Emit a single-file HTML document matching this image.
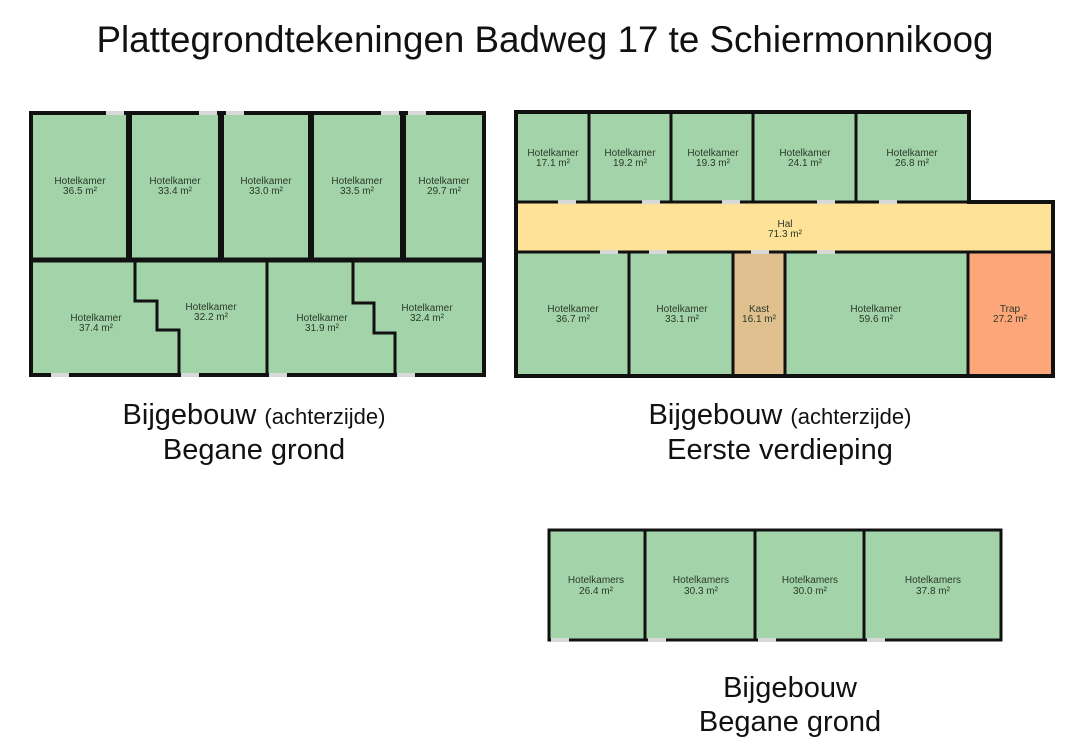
<!DOCTYPE html>
<html><head><meta charset="utf-8"><style>
html,body{margin:0;padding:0;background:#fff;}
svg{display:block;}
text{font-family:"Liberation Sans",Arial,sans-serif;}
.r{font-size:10px;fill:#2a3a2a;text-anchor:middle;}
.lb{font-size:29px;fill:#111;text-anchor:middle;}
.w{fill:none;stroke:#111;}
</style></head><body>
<svg width="1080" height="754" viewBox="0 0 1080 754" xmlns="http://www.w3.org/2000/svg">
<rect width="1080" height="754" fill="#fff"/>
<text x="545" y="52" font-size="37" fill="#111" text-anchor="middle" textLength="897" lengthAdjust="spacingAndGlyphs">Plattegrondtekeningen Badweg 17 te Schiermonnikoog</text>

<!-- Plan 1 -->
<rect x="31" y="113" width="453" height="262" fill="#a3d3a9"/>
<rect class="w" x="31" y="113" width="453" height="262" stroke-width="4"/>
<g stroke="#111" stroke-width="6">
<line x1="129" y1="113" x2="129" y2="260"/>
<line x1="221" y1="113" x2="221" y2="260"/>
<line x1="311" y1="113" x2="311" y2="260"/>
<line x1="403" y1="113" x2="403" y2="260"/>
<line x1="31" y1="260" x2="484" y2="260" stroke-width="5"/>
</g>
<polyline class="w" stroke-width="3" points="135,260 135,301 157,301 157,330 179,330 179,375"/>
<line x1="267" y1="260" x2="267" y2="375" stroke="#111" stroke-width="3"/>
<polyline class="w" stroke-width="3" points="353,260 353,303 374,303 374,333 395,333 395,375"/>
<g fill="#d8d8d8">
<rect x="106" y="111" width="18" height="4"/><rect x="199" y="111" width="18" height="4"/><rect x="226" y="111" width="18" height="4"/>
<rect x="381" y="111" width="18" height="4"/><rect x="408" y="111" width="18" height="4"/>
<rect x="51" y="373" width="18" height="4"/><rect x="181" y="373" width="18" height="4"/><rect x="269" y="373" width="18" height="4"/><rect x="397" y="373" width="18" height="4"/>
</g>
<g class="r">
<text x="80" y="184">Hotelkamer</text><text x="80" y="194">36.5 m²</text>
<text x="175" y="184">Hotelkamer</text><text x="175" y="194">33.4 m²</text>
<text x="266" y="184">Hotelkamer</text><text x="266" y="194">33.0 m²</text>
<text x="357" y="184">Hotelkamer</text><text x="357" y="194">33.5 m²</text>
<text x="444" y="184">Hotelkamer</text><text x="444" y="194">29.7 m²</text>
<text x="96" y="321">Hotelkamer</text><text x="96" y="331">37.4 m²</text>
<text x="211" y="310">Hotelkamer</text><text x="211" y="320">32.2 m²</text>
<text x="322" y="321">Hotelkamer</text><text x="322" y="331">31.9 m²</text>
<text x="427" y="311">Hotelkamer</text><text x="427" y="321">32.4 m²</text>
</g>

<!-- Plan 2 -->
<rect x="516" y="112" width="453" height="90" fill="#a3d3a9"/>
<rect x="516" y="202" width="537" height="50" fill="#fde298"/>
<rect x="516" y="252" width="537" height="124" fill="#a3d3a9"/>
<rect x="733" y="252" width="52" height="124" fill="#dfc08e"/>
<rect x="968" y="252" width="85" height="124" fill="#fca679"/>
<path class="w" stroke-width="4" d="M516,112 H969 V202 H1053 V376 H516 Z"/>
<g stroke="#111" stroke-width="3">
<line x1="589" y1="112" x2="589" y2="202"/><line x1="671" y1="112" x2="671" y2="202"/>
<line x1="753" y1="112" x2="753" y2="202"/><line x1="856" y1="112" x2="856" y2="202"/>
<line x1="516" y1="202" x2="969" y2="202"/><line x1="516" y1="252" x2="1053" y2="252"/>
<line x1="629" y1="252" x2="629" y2="376"/><line x1="733" y1="252" x2="733" y2="376"/>
<line x1="785" y1="252" x2="785" y2="376"/><line x1="968" y1="252" x2="968" y2="376"/>
</g>
<g fill="#d8d8d8">
<rect x="558" y="200" width="18" height="4"/><rect x="642" y="200" width="18" height="4"/><rect x="722" y="200" width="18" height="4"/><rect x="817" y="200" width="18" height="4"/><rect x="879" y="200" width="18" height="4"/>
<rect x="600" y="250" width="18" height="4"/><rect x="649" y="250" width="18" height="4"/><rect x="751" y="250" width="18" height="4"/><rect x="817" y="250" width="18" height="4"/>
</g>
<g class="r">
<text x="553" y="156">Hotelkamer</text><text x="553" y="166">17.1 m²</text>
<text x="630" y="156">Hotelkamer</text><text x="630" y="166">19.2 m²</text>
<text x="713" y="156">Hotelkamer</text><text x="713" y="166">19.3 m²</text>
<text x="805" y="156">Hotelkamer</text><text x="805" y="166">24.1 m²</text>
<text x="912" y="156">Hotelkamer</text><text x="912" y="166">26.8 m²</text>
<text x="785" y="227">Hal</text><text x="785" y="237">71.3 m²</text>
<text x="573" y="312">Hotelkamer</text><text x="573" y="322">36.7 m²</text>
<text x="682" y="312">Hotelkamer</text><text x="682" y="322">33.1 m²</text>
<text x="759" y="312">Kast</text><text x="759" y="322">16.1 m²</text>
<text x="876" y="312">Hotelkamer</text><text x="876" y="322">59.6 m²</text>
<text x="1010" y="312">Trap</text><text x="1010" y="322">27.2 m²</text>
</g>

<!-- Plan 3 -->
<rect x="549" y="530" width="452" height="110" fill="#a3d3a9"/>
<rect class="w" x="549" y="530" width="452" height="110" stroke-width="3"/>
<g stroke="#111" stroke-width="3">
<line x1="645" y1="530" x2="645" y2="640"/><line x1="755" y1="530" x2="755" y2="640"/><line x1="864" y1="530" x2="864" y2="640"/>
</g>
<g fill="#d8d8d8">
<rect x="551" y="638" width="18" height="4"/><rect x="648" y="638" width="18" height="4"/><rect x="758" y="638" width="18" height="4"/><rect x="867" y="638" width="18" height="4"/>
</g>
<g class="r">
<text x="596" y="583">Hotelkamers</text><text x="596" y="594">26.4 m²</text>
<text x="701" y="583">Hotelkamers</text><text x="701" y="594">30.3 m²</text>
<text x="810" y="583">Hotelkamers</text><text x="810" y="594">30.0 m²</text>
<text x="933" y="583">Hotelkamers</text><text x="933" y="594">37.8 m²</text>
</g>

<!-- Labels -->
<text class="lb" x="254" y="424">Bijgebouw <tspan font-size="22">(achterzijde)</tspan></text>
<text class="lb" x="254" y="459">Begane grond</text>
<text class="lb" x="780" y="424">Bijgebouw <tspan font-size="22">(achterzijde)</tspan></text>
<text class="lb" x="780" y="459">Eerste verdieping</text>
<text class="lb" x="790" y="697">Bijgebouw</text>
<text class="lb" x="790" y="731">Begane grond</text>
</svg>
</body></html>
